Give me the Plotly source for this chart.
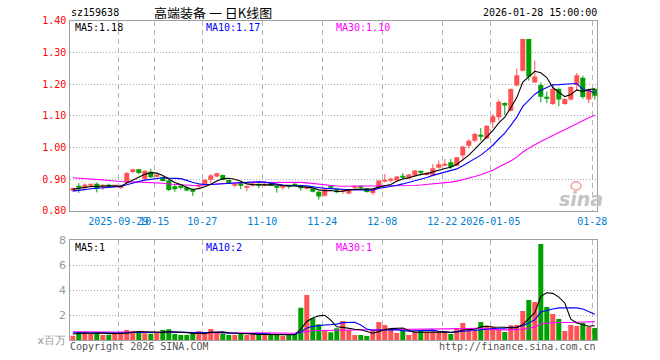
import pandas as pd
import plotly.graph_objects as go

# ---------------- data ----------------
holidays = ["2025-10-01", "2025-10-02", "2025-10-03", "2025-10-06", "2025-10-07",
            "2025-10-08", "2026-01-01", "2026-01-02"]
dates = [d.strftime("%Y-%m-%d") for d in pd.bdate_range("2025-09-17", "2026-01-28")
         if d.strftime("%Y-%m-%d") not in holidays]

tick_dates = ["2025-09-29", "2025-10-15", "2025-10-27", "2025-11-10", "2025-11-24",
              "2025-12-08", "2025-12-22", "2026-01-05", "2026-01-28"]
tick_text = ["2025-09-29", "10-15", "10-27", "11-10", "11-24", "12-08", "12-22",
             "2026-01-05", "01-28"]

open_ = [0.863, 0.878, 0.871, 0.880, 0.885, 0.877, 0.879, 0.877, 0.872, 0.889,
         0.922, 0.931, 0.900, 0.923, 0.909, 0.906, 0.895, 0.877, 0.875, 0.874,
         0.868, 0.876, 0.884, 0.898, 0.908, 0.913, 0.897, 0.880, 0.887, 0.874,
         0.879, 0.883, 0.880, 0.887, 0.876, 0.875, 0.878, 0.882, 0.881, 0.870,
         0.870, 0.860, 0.847, 0.874, 0.868, 0.861, 0.854, 0.874, 0.875, 0.869,
         0.856, 0.874, 0.893, 0.897, 0.895, 0.906, 0.902, 0.911, 0.921, 0.913,
         0.911, 0.936, 0.944, 0.953, 0.942, 0.974, 1.005, 1.021, 1.039, 1.028,
         1.079, 1.095, 1.140, 1.116, 1.195, 1.242, 1.342, 1.205, 1.197, 1.156,
         1.137, 1.184, 1.137, 1.151, 1.197, 1.220, 1.151, 1.184]
high = [0.873, 0.887, 0.886, 0.883, 0.889, 0.883, 0.885, 0.880, 0.882, 0.922,
        0.932, 0.932, 0.927, 0.932, 0.916, 0.908, 0.897, 0.884, 0.877, 0.876,
        0.870, 0.884, 0.899, 0.916, 0.920, 0.914, 0.898, 0.884, 0.889, 0.877,
        0.887, 0.886, 0.892, 0.888, 0.877, 0.879, 0.881, 0.887, 0.882, 0.874,
        0.871, 0.862, 0.869, 0.879, 0.870, 0.863, 0.869, 0.879, 0.879, 0.872,
        0.869, 0.896, 0.916, 0.905, 0.910, 0.919, 0.916, 0.929, 0.926, 0.922,
        0.947, 0.958, 0.963, 0.963, 0.970, 1.005, 1.026, 1.047, 1.061, 1.070,
        1.105, 1.151, 1.142, 1.186, 1.249, 1.342, 1.342, 1.274, 1.205, 1.176,
        1.200, 1.189, 1.155, 1.193, 1.235, 1.226, 1.186, 1.188]
low = [0.861, 0.856, 0.868, 0.873, 0.858, 0.866, 0.874, 0.874, 0.868, 0.887,
       0.918, 0.915, 0.898, 0.904, 0.905, 0.892, 0.862, 0.860, 0.868, 0.862,
       0.847, 0.871, 0.882, 0.887, 0.906, 0.896, 0.885, 0.874, 0.868, 0.862,
       0.877, 0.871, 0.877, 0.879, 0.857, 0.866, 0.870, 0.879, 0.863, 0.866,
       0.858, 0.835, 0.845, 0.870, 0.855, 0.853, 0.852, 0.870, 0.868, 0.857,
       0.850, 0.872, 0.890, 0.889, 0.893, 0.900, 0.900, 0.909, 0.911, 0.911,
       0.909, 0.933, 0.942, 0.932, 0.940, 0.958, 0.997, 1.016, 1.021, 1.026,
       1.061, 1.084, 1.102, 1.114, 1.193, 1.240, 1.211, 1.204, 1.142, 1.140,
       1.134, 1.130, 1.134, 1.148, 1.179, 1.153, 1.140, 1.151]
close = [0.872, 0.875, 0.882, 0.882, 0.871, 0.882, 0.878, 0.878, 0.879, 0.919,
         0.931, 0.919, 0.926, 0.906, 0.911, 0.894, 0.865, 0.868, 0.874, 0.864,
         0.863, 0.880, 0.898, 0.911, 0.918, 0.898, 0.887, 0.883, 0.879, 0.876,
         0.886, 0.882, 0.882, 0.881, 0.874, 0.877, 0.877, 0.881, 0.871, 0.872,
         0.860, 0.845, 0.868, 0.873, 0.858, 0.862, 0.868, 0.876, 0.874, 0.859,
         0.868, 0.895, 0.895, 0.898, 0.908, 0.905, 0.914, 0.927, 0.920, 0.920,
         0.934, 0.947, 0.946, 0.938, 0.969, 1.003, 1.021, 1.042, 1.035, 1.068,
         1.098, 1.144, 1.132, 1.184, 1.228, 1.342, 1.223, 1.224, 1.160, 1.154,
         1.184, 1.151, 1.153, 1.191, 1.228, 1.159, 1.182, 1.163]
volume = [0.37, 0.69, 0.69, 0.53, 0.61, 0.43, 0.43, 0.61, 0.64, 0.83,
          0.75, 0.64, 0.56, 0.53, 0.61, 0.83, 0.88, 0.51, 0.43, 0.43,
          0.53, 0.75, 0.56, 0.91, 0.61, 0.53, 0.43, 0.43, 0.53, 0.43,
          0.51, 0.43, 0.48, 0.43, 0.53, 0.37, 0.43, 0.51, 2.61, 3.63,
          1.76, 1.28, 0.75, 0.64, 0.96, 1.55, 0.83, 0.43, 0.43, 0.35,
          0.80, 1.47, 1.23, 0.83, 0.59, 0.80, 0.43, 0.64, 0.75, 0.69,
          0.69, 0.64, 0.61, 0.51, 0.96, 1.39, 0.80, 0.77, 1.47, 1.17,
          1.09, 0.85, 0.67, 1.20, 1.23, 2.35, 3.23, 3.07, 7.71, 2.67,
          2.10, 1.71, 0.75, 1.23, 1.15, 1.39, 1.09, 0.99]

# closes / volumes of the 29 sessions before the visible window (for the moving averages)
prior_close = [0.905, 0.912, 0.918, 0.925, 0.930, 0.935, 0.940, 0.938, 0.935, 0.930,
               0.935, 0.940, 0.945, 0.938, 0.930, 0.925, 0.920, 0.910, 0.900, 0.890,
               0.860, 0.850, 0.852, 0.858, 0.860, 0.862, 0.868, 0.865, 0.870]
prior_volume = [0.80, 0.70, 0.65, 0.90, 0.75, 0.60, 0.70, 0.85, 0.70, 0.65,
                0.80, 0.75, 0.60, 0.70, 0.80, 0.65, 0.70, 0.75, 0.80, 0.75,
                0.75, 0.68, 0.72, 0.70, 0.70, 0.50, 0.60, 0.55, 0.53]

price_labels = ["MA5:1.18", "MA10:1.17", "MA30:1.10"]
volume_labels = ["MA5:1", "MA10:2", "MA30:1"]

# ---------------- helpers ----------------
def moving_avg(prior, series, n):
    full = list(prior) + list(series)
    off = len(prior)
    return [sum(full[off + i - n + 1: off + i + 1]) / n for i in range(len(series))]

W, H = 660, 360
PX_L, PX_R = 70.3, 597.3
P_TOP, P_BOT = 20.7, 210.7
V_TOP, V_BOT = 240.3, 340.3

RED = "#ff5252"
GREEN = "#00a000"
MONO = "DejaVu Sans Mono"
x = list(range(len(close)))
half = 5 / 12  # candle body spans 5 px of the 6 px step
tick_pos = [dates.index(d) - half for d in tick_dates]

up = [c >= o for o, c in zip(open_, close)]
colors = [RED if u else GREEN for u in up]
body_base = [min(o, c) for o, c in zip(open_, close)]
body_h = [max(abs(c - o), 0.0032) for o, c in zip(open_, close)]

fig = go.Figure()

# wicks
for flag, col in [(True, RED), (False, GREEN)]:
    wx, wy = [], []
    for i in x:
        if up[i] == flag:
            wx += [i, i, None]
            wy += [low[i], high[i], None]
    fig.add_trace(go.Scatter(x=wx, y=wy, mode="lines", line=dict(color=col, width=1),
                             xaxis="x", yaxis="y", hoverinfo="skip"))

fig.add_trace(go.Bar(x=x, y=body_h, base=body_base, width=2 * half, marker_color=colors,
                     marker_line_width=0, xaxis="x", yaxis="y"))

for n, col in [(30, "#ff00ff"), (10, "#0000ff"), (5, "#000000")]:
    fig.add_trace(go.Scatter(x=x, y=moving_avg(prior_close, close, n), mode="lines",
                             line=dict(color=col, width=1.1), xaxis="x", yaxis="y"))

# volume
fig.add_trace(go.Bar(x=x, y=volume, width=2 * half, marker_color=colors, marker_line_width=0,
                     xaxis="x2", yaxis="y2"))
for n, col in [(30, "#ff00ff"), (10, "#0000ff"), (5, "#000000")]:
    fig.add_trace(go.Scatter(x=x, y=moving_avg(prior_volume, volume, n), mode="lines",
                             line=dict(color=col, width=1.1), xaxis="x2", yaxis="y2"))

xdom = [PX_L / W, PX_R / W]
xrange_ = [-half, len(close) - 1 + half]
grid_v = dict(showgrid=True, gridcolor="#b4b4b4", gridwidth=1, griddash="5px,4px")
frame = dict(showline=True, mirror=True, linecolor="#a0a0a0", linewidth=1, zeroline=False,
             automargin=False, fixedrange=True)

fig.update_layout(
    width=W, height=H, autosize=False, margin=dict(l=0, r=0, t=0, b=0, pad=0),
    paper_bgcolor="white", plot_bgcolor="white", showlegend=False,
    barmode="overlay", hovermode=False,
    xaxis=dict(domain=xdom, range=xrange_, anchor="y", tickmode="array",
               tickvals=tick_pos, ticktext=tick_text, tickangle=0, ticks="outside", ticklen=1,
               tickcolor="rgba(0,0,0,0)",
               tickfont=dict(family=MONO, size=10, color="#0080d0"), **grid_v, **frame),
    yaxis=dict(domain=[1 - P_BOT / H, 1 - P_TOP / H], range=[0.8, 1.4], anchor="x",
               tickmode="array", tickvals=[0.8, 0.9, 1.0, 1.1, 1.2, 1.3, 1.4],
               ticktext=["0.80", "0.90", "1.00", "1.10", "1.20", "1.30", "1.40"],
               ticks="outside", ticklen=1, tickcolor="rgba(0,0,0,0)",
               tickfont=dict(family=MONO, size=10, color="#ff0000"),
               showgrid=True, gridcolor="#aaaaaa", gridwidth=1, griddash="1px,2px", **frame),
    xaxis2=dict(domain=xdom, range=xrange_, anchor="y2", tickmode="array",
                tickvals=tick_pos, showticklabels=False, **grid_v, **frame),
    yaxis2=dict(domain=[1 - V_BOT / H, 1 - V_TOP / H], range=[0, 8], anchor="x2",
                tickmode="array", tickvals=[0, 2, 4, 6, 8],
                ticktext=["x百万", "2", "4", "6", "8"], ticks="outside", ticklen=1,
                tickcolor="rgba(0,0,0,0)",
                tickfont=dict(family="DejaVu Sans", size=11, color="#999999"),
                showgrid=True, gridcolor="#aaaaaa", gridwidth=1, griddash="1px,2px", **frame),
)

def ann(text, px, py, color="#000000", size=10, family=MONO, xanchor="left", height=None, **kw):
    fig.add_annotation(text=text, x=px / W, y=1 - py / H, xref="paper", yref="paper",
                       xanchor=xanchor, yanchor="middle", showarrow=False, borderpad=0,
                       height=height, valign="middle",
                       font=dict(family=family, size=size, color=color, **kw))

ann("sz159638", 70, 13, height=11)
ann("高端装备 一 日K线图", 213, 12.3, size=13, family="Noto Sans CJK SC", xanchor="center",
    height=14)
ann("2026-01-28 15:00:00", 598, 13, xanchor="right", height=11)

for txt, px, col in zip(price_labels, [74, 205, 335], ["#000000", "#0000ff", "#ff00ff"]):
    ann(txt, px, 27.6, color=col, height=11)
for txt, px, col in zip(volume_labels, [74, 205, 335], ["#000000", "#0000ff", "#ff00ff"]):
    ann(txt, px, 247, color=col, height=11)

ann("Copyright 2026 SINA.COM", 69, 346, color="#555555", height=11)
ann("http://finance.sina.com.cn", 597, 346, color="#555555", xanchor="right", height=11)
ann("sina", 581, 199, color="#c4c4c4", size=19, family="DejaVu Sans",
    xanchor="center", height=18, weight="bold", style="italic")
# little eye of the watermark logo
fig.add_shape(type="circle", xref="paper", yref="paper",
              x0=571 / W, x1=581 / W, y0=1 - 190 / H, y1=1 - 182 / H,
              line=dict(color="#f2b4b4", width=2), fillcolor="rgba(0,0,0,0)")

fig.write_html("out.html", config={"responsive": False, "displayModeBar": False})
